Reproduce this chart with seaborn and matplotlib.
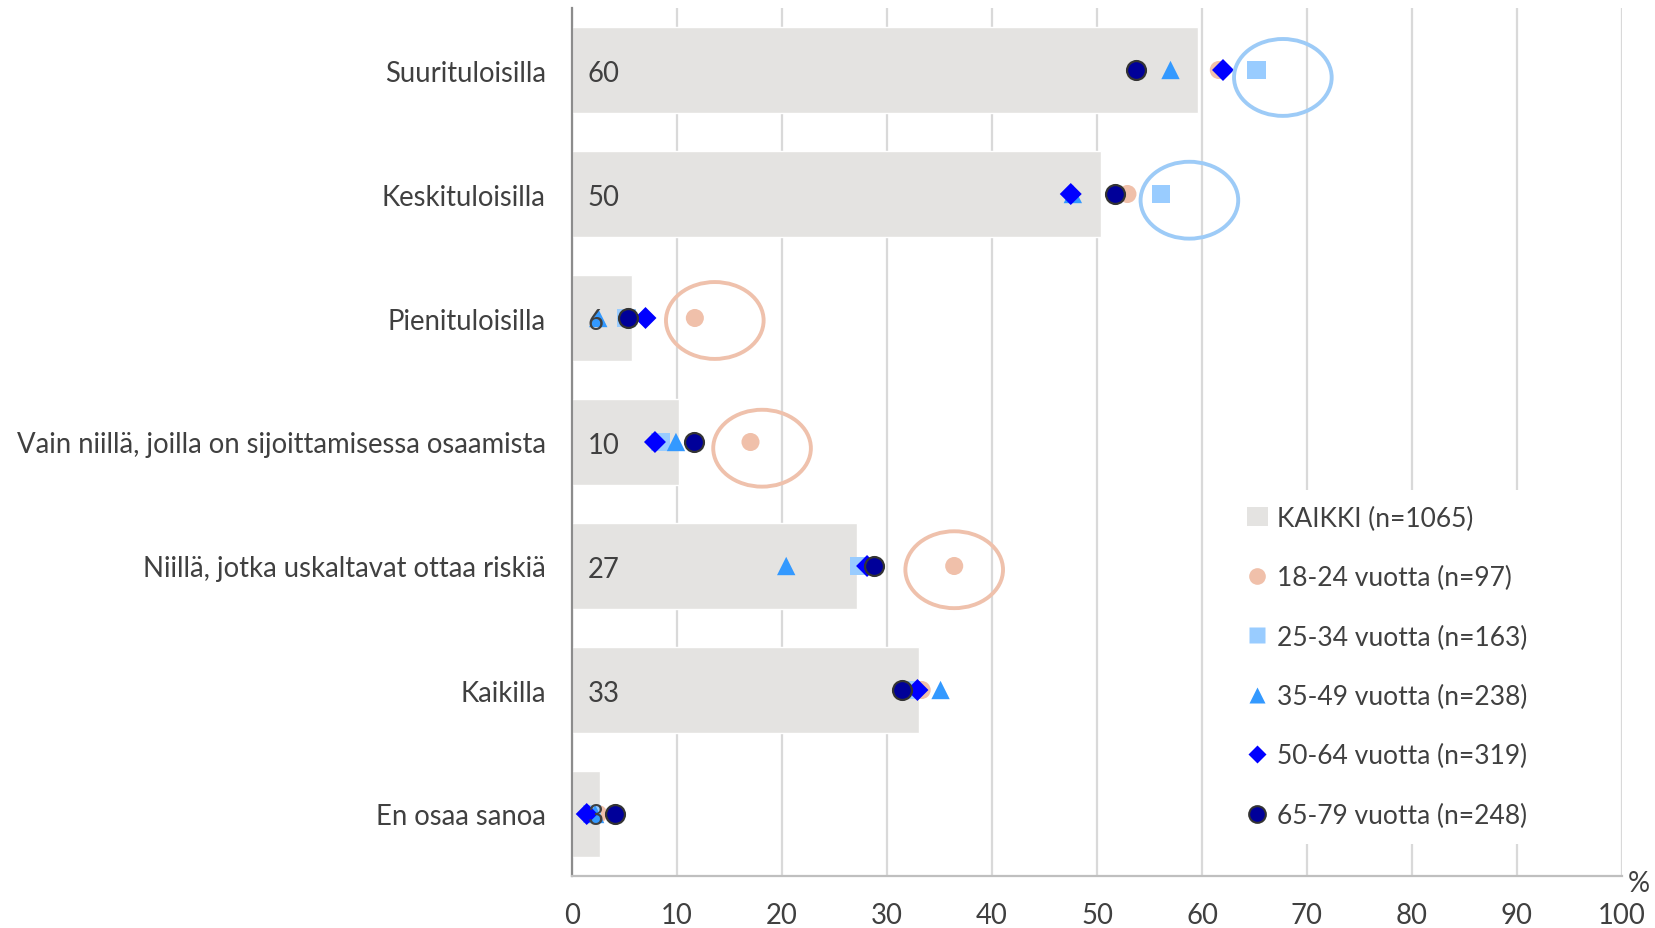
import matplotlib
matplotlib.use("Agg")
import matplotlib.pyplot as plt
from matplotlib.patches import Ellipse
from matplotlib.lines import Line2D
from matplotlib.patches import Patch
import seaborn as sns
import pandas as pd

categories = [
    "Suurituloisilla",
    "Keskituloisilla",
    "Pienituloisilla",
    "Vain niillä, joilla on sijoittamisessa osaamista",
    "Niillä, jotka uskaltavat ottaa riskiä",
    "Kaikilla",
    "En osaa sanoa",
]
kaikki = [59.6, 50.4, 5.7, 10.2, 27.1, 33.0, 2.7]
kaikki_labels = ["60", "50", "6", "10", "27", "33", "3"]
a18_24 = [61.6, 52.9, 11.7, 17.0, 36.4, 33.3, 2.5]
a25_34 = [65.2, 56.1, 5.2, 8.4, 27.4, 32.2, 1.9]
a35_49 = [57.0, 47.7, 2.5, 9.9, 20.4, 35.1, 2.2]
a50_64 = [62.0, 47.5, 7.0, 7.9, 28.1, 32.9, 1.4]
a65_79 = [53.7, 51.7, 5.3, 11.6, 28.8, 31.4, 4.1]

series_names = ["18-24 vuotta (n=97)", "25-34 vuotta (n=163)", "35-49 vuotta (n=238)",
                "50-64 vuotta (n=319)", "65-79 vuotta (n=248)"]
kaikki_name = "KAIKKI (n=1065)"
x_ticks = [0, 10, 20, 30, 40, 50, 60, 70, 80, 90, 100]

# highlighted points: (row index, series index)
highlights = [(0, 1), (1, 1), (2, 0), (3, 0), (4, 0)]
highlight_dx = [2.5, 2.7, 1.9, 1.1, 0.0]
highlight_dy = [0.06, 0.05, 0.02, 0.05, 0.03]

series_values = [a18_24, a25_34, a35_49, a50_64, a65_79]
colors = ["#F0C0AA", "#99CCFF", "#3399FF", "#0000FF", "#000099"]
markers = ["o", "s", "^", "D", "o"]
sizes = [169, 185, 175, 125, 185]
ellipse_colors = {0: "#EFC1AC", 1: "#9DCBF7"}

sns.set_theme(style="white")
plt.rcParams["font.family"] = ["Lato", "DejaVu Sans"]
TXT = "#404040"
FS = 19.8

fig = plt.figure(figsize=(16.55, 9.29), dpi=100)
ax = fig.add_axes([572 / 1655, 52 / 929, (1622 - 572) / 1655, (920 - 52) / 929])

sns.barplot(x=kaikki, y=categories, color="#E4E3E1", width=0.69, orient="h",
            ax=ax, zorder=2, saturation=1)

for vals, col, mk, sz, name in zip(series_values, colors, markers, sizes, series_names):
    if name.startswith("65-79"):
        ec, lw = "#333333", 1.6
    else:
        ec, lw = "none", 0
    sns.scatterplot(x=vals, y=categories, color=col, marker=mk, s=sz,
                    edgecolor=ec, linewidth=lw, ax=ax, zorder=4, legend=False)

for i, lab in enumerate(kaikki_labels):
    ax.text(1.5, i, lab, ha="left", va="center_baseline", fontsize=FS, color=TXT, zorder=6)

for (row, si), dx, dy in zip(highlights, highlight_dx, highlight_dy):
    cx = series_values[si][row] + dx
    e = Ellipse((cx, row + dy), width=9.3, height=0.62, fill=False,
                edgecolor=ellipse_colors[si], linewidth=2.8, zorder=5)
    ax.add_patch(e)

ax.set_xlim(0, 100)
ax.set_ylim(len(categories) - 0.5, -0.5)
ax.set_xticks(x_ticks)
ax.set_xticklabels([str(t) for t in x_ticks], fontsize=FS, color=TXT)
ax.tick_params(axis="x", length=0, pad=19)
ax.set_yticks(range(len(categories)))
ax.set_yticklabels(categories, fontsize=FS, color=TXT)
ax.tick_params(axis="y", which="major", length=0, pad=19)
ax.set_yticks([i - 0.5 for i in range(len(categories) + 1)], minor=True)
ax.tick_params(axis="y", which="minor", length=9, width=1.2, color="#8C8C8C", direction="out")
ax.set_xlabel("")
ax.set_ylabel("")

ax.grid(axis="x", color="#D9D9D9", linewidth=1.6, zorder=0)
ax.grid(axis="y", visible=False)
ax.set_axisbelow(True)
for s in ["top", "right"]:
    ax.spines[s].set_visible(False)
ax.spines["left"].set_color("#8C8C8C")
ax.spines["left"].set_linewidth(1.6)
ax.spines["bottom"].set_color("#BFBFBF")
ax.spines["bottom"].set_linewidth(1.6)

ax.text(1.016, -0.008, "%", transform=ax.transAxes, fontsize=FS, color=TXT,
        ha="center", va="center")

handles = [Patch(facecolor="#E4E3E1", edgecolor="none", label=kaikki_name)]
for col, mk, name in zip(colors, markers, series_names):
    if name.startswith("65-79"):
        handles.append(Line2D([], [], linestyle="none", marker=mk, markersize=12,
                              markerfacecolor=col, markeredgecolor="#333333",
                              markeredgewidth=1.5, label=name))
    else:
        handles.append(Line2D([], [], linestyle="none", marker=mk,
                              markersize=12 if mk != "D" else 9,
                              markerfacecolor=col, markeredgecolor="none", label=name))
leg = ax.legend(handles=handles, loc="lower left", bbox_to_anchor=(0.615, 0.022),
                frameon=True, facecolor="white", edgecolor="none", framealpha=1,
                fontsize=19, labelspacing=1.3, handlelength=0.8, handletextpad=0.35,
                borderpad=0.6, fancybox=False)
for t in leg.get_texts():
    t.set_color(TXT)
leg.set_zorder(7)

fig.savefig("out.png", dpi=100)
